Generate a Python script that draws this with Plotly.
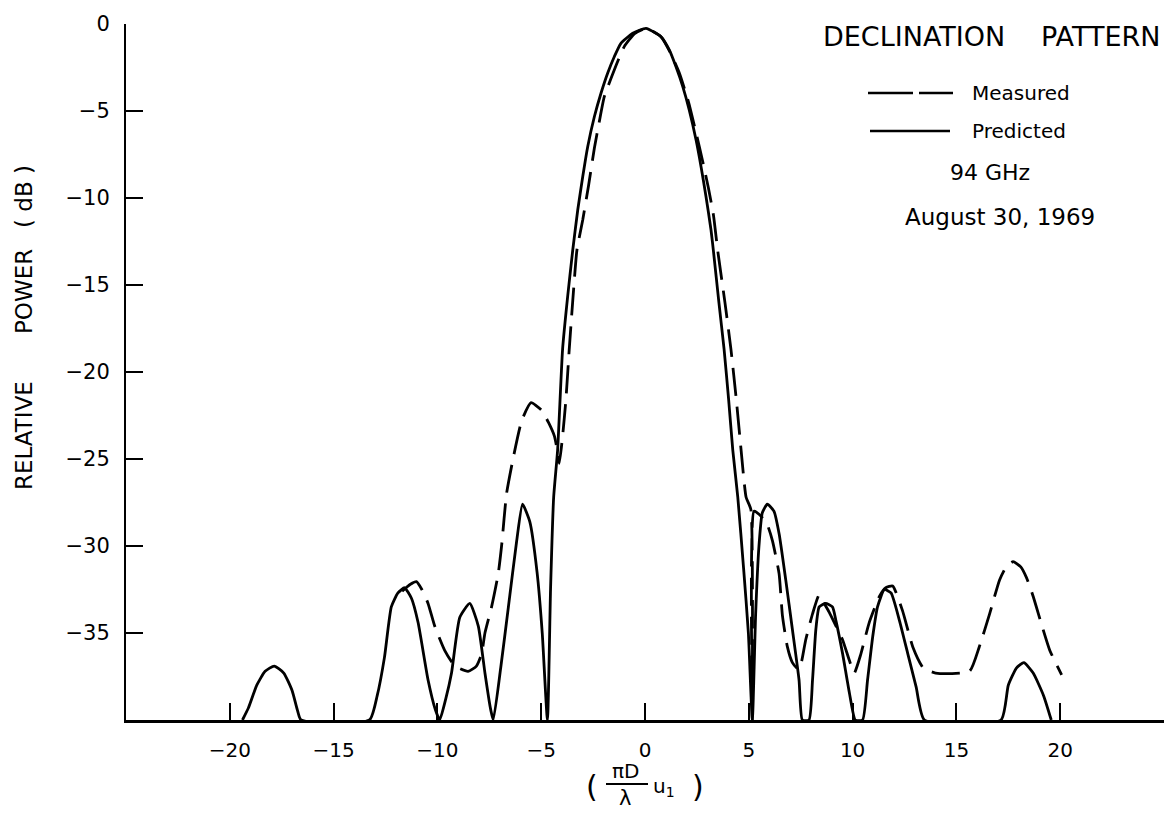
import plotly.graph_objects as go

# ---------------- data ----------------
pred_x = [-19.39, -19.1, -18.7, -18.3, -17.86, -17.4, -17.0, -16.75, -16.57,
          -13.27, -12.9, -12.55, -12.22, -11.9, -11.58, -11.25, -10.93, -10.45, -10.1, -9.89,
          -9.6, -9.32, -8.92, -8.44, -8.03, -7.71, -7.45, -7.31,
          -6.95, -6.58, -6.18, -5.9, -5.55, -5.2, -4.95, -4.7,
          -4.55, -4.40, -4.21, -3.97, -3.72, -3.48, -3.24, -3.0, -2.76, -2.44, -2.12, -1.80,
          -1.48, -1.16, -0.59, 0.05, 0.77, 1.17, 1.49, 1.82, 2.13, 2.46, 2.70, 2.94, 3.18,
          3.31, 3.55, 3.81, 4.03, 4.23, 4.47, 4.75, 4.98, 5.17,
          5.33, 5.49, 5.65, 5.89, 6.21, 6.46, 6.78, 7.1, 7.42, 7.58,
          7.9, 8.07, 8.23, 8.39, 8.7, 9.03, 9.2, 9.52, 9.84, 10.13,
          10.48, 10.72, 10.97, 11.2, 11.53, 11.85, 12.26, 12.66, 13.06, 13.46,
          17.15, 17.5, 17.9, 18.25, 18.7, 19.2, 19.57]
pred_db = [-40, -39.3, -38.0, -37.2, -36.9, -37.3, -38.3, -39.4, -40,
           -40, -38.6, -36.4, -33.5, -32.7, -32.4, -33.0, -34.4, -37.7, -39.4, -40,
           -38.8, -37.3, -34.1, -33.3, -34.6, -37.3, -39.3, -40,
           -37.0, -33.5, -29.7, -27.6, -28.6, -31.5, -35.0, -40,
           -32.5, -27.2, -24.5, -18.7, -15.6, -12.99, -10.69, -8.78, -7.05, -5.33, -3.98, -2.83,
           -1.88, -1.11, -0.53, -0.25, -0.73, -1.49, -2.45, -3.6, -4.94, -6.67, -8.2, -9.93, -11.84,
           -13.2, -15.9, -18.7, -21.6, -24.5, -27.2, -31.3, -35.0, -40,
           -33.9, -30.0, -28.1, -27.6, -28.0, -29.3, -31.95, -34.8, -37.7, -40,
           -40, -37.7, -34.8, -33.5, -33.3, -33.5, -34.3, -36.2, -38.4, -40,
           -40, -37.7, -35.2, -33.5, -32.5, -32.7, -34.3, -36.2, -38.1, -40,
           -40, -38.0, -37.0, -36.7, -37.3, -38.6, -40]

meas_x = [-11.7, -11.3, -11.01, -10.75, -10.45, -10.13, -9.65, -9.16, -8.52, -8.12, -7.87,
          -7.71, -7.39, -7.07, -6.9, -6.67, -6.34, -5.94, -5.49, -4.98, -4.65, -4.36, -4.2, -4.13,
          -3.97, -3.81, -3.65, -3.48, -3.28, -3.0, -2.72, -2.44, -2.2, -1.96, -1.48, -1.0, -0.5,
          0.05, 0.77, 1.2, 1.65, 2.1, 2.45, 2.78, 3.05, 3.3, 3.5, 3.85, 4.14, 4.4, 4.63, 4.87,
          5.1, 5.17, 5.25, 5.6, 5.9, 6.14, 6.46, 6.62, 6.86, 7.1, 7.4, 7.55, 7.74, 8.07, 8.39,
          8.63, 8.87, 9.2, 9.52, 9.85, 10.08, 10.4, 10.8, 11.29, 11.6, 11.93, 12.4, 12.9, 13.4,
          14.0, 15.63, 16.1, 16.6, 17.08, 17.4, 17.73, 18.1, 18.37, 18.7, 19.1, 19.5, 20.07]
meas_db = [-32.6, -32.2, -32.05, -32.5, -33.3, -34.6, -36.0, -36.9, -37.2, -36.9, -36.2,
           -35.0, -33.5, -31.6, -29.9, -27.0, -24.9, -22.8, -21.76, -22.2, -22.9, -23.7, -24.7, -25.25,
           -23.7, -21.6, -18.7, -15.9, -13.0, -11.26, -9.3, -7.14, -5.6, -4.18, -2.64, -1.3, -0.55,
           -0.25, -0.73, -1.6, -2.8, -4.5, -6.2, -7.9, -9.4, -11.0, -13.0, -16.0, -18.7, -21.6, -24.5, -27.2,
           -27.9, -40, -28.0, -28.3, -28.8, -29.7, -31.6, -34.0, -35.8, -36.7, -37.1, -36.6, -35.4, -33.9, -32.8,
           -33.3, -33.8, -34.6, -35.4, -36.6, -37.3, -36.2, -34.4, -32.9, -32.4, -32.3, -33.7, -35.8, -37.0,
           -37.3, -37.2, -35.8, -33.9, -31.95, -31.2, -30.9, -31.2, -31.8, -32.9, -34.5, -36.0, -37.4]

x_tick_vals = [-20, -15, -10, -5, 0, 5, 10, 15, 20]
x_tick_text = ["\u221220", "\u221215", "\u221210", "\u22125", "0", "5", "10", "15", "20"]
x_end_ticks = [-25, 25]
y_tick_vals = [0, -5, -10, -15, -20, -25, -30, -35]
y_tick_text = ["0", "\u22125", "\u221210", "\u221215", "\u221220", "\u221225", "\u221230", "\u221235"]

# ---------------- layout geometry (pixels) ----------------
W, H = 1172, 816
ML, MR, MT, MB = 126, 8, 24, 96
PW, PH = W - ML - MR, H - MT - MB
FONT = "DejaVu Sans"


def px(x):
    return (x - ML) / PW


def py(y):
    return (MT + PH - y) / PH


fig = go.Figure()
fig.add_trace(go.Scatter(x=meas_x, y=meas_db, mode="lines", name="Measured",
                         line=dict(color="black", width=2.8, dash="28px,11px",
                                   shape="spline", smoothing=0.5)))
fig.add_trace(go.Scatter(x=pred_x, y=pred_db, mode="lines", name="Predicted",
                         line=dict(color="black", width=2.8, shape="spline", smoothing=0.5)))

ann = []


def text(s, x, y, size, xanchor="center", angle=0):
    ann.append(dict(text=s, x=px(x), y=py(y), xref="paper", yref="paper",
                    xanchor=xanchor, yanchor="middle", showarrow=False, textangle=angle,
                    font=dict(family=FONT, size=size, color="black")))


# y-axis title words
text("RELATIVE", 24, 436, 23, angle=-90)
text("POWER", 24, 292, 23, angle=-90)
text("( dB )", 24, 197, 23, angle=-90)

# x-axis title: ( pi D / lambda  u1 )
text("(", 592, 786, 30)
text("\u03c0D", 625, 771, 20)
text("\u03bb", 625, 798, 21)
text("u<sub>1</sub>", 664, 787, 20)
text(")", 698, 786, 30)

# title block / legend
text("DECLINATION", 914, 37, 27)
text("PATTERN", 1100, 37, 27)
text("Measured", 970, 93, 20, xanchor="left")
text("Predicted", 970, 131, 20, xanchor="left")
text("94 GHz", 990, 173, 22)
text("August 30, 1969", 1000, 217, 23)

shapes = [
    dict(type="line", xref="paper", yref="paper", x0=px(606), x1=px(648), y0=py(784), y1=py(784),
         line=dict(color="black", width=2)),
    dict(type="line", xref="paper", yref="paper", x0=px(868), x1=px(953), y0=py(93), y1=py(93),
         line=dict(color="black", width=2.5, dash="45px,6px")),
    dict(type="line", xref="paper", yref="paper", x0=px(870), x1=px(950), y0=py(131), y1=py(131),
         line=dict(color="black", width=2.5)),
]

fig.update_layout(
    width=W, height=H,
    margin=dict(l=ML, r=MR, t=MT, b=MB, pad=0),
    paper_bgcolor="white", plot_bgcolor="white",
    showlegend=False,
    font=dict(family=FONT, size=20, color="black"),
    annotations=ann, shapes=shapes,
    xaxis=dict(range=[-25, 25], tickmode="array", tickvals=x_tick_vals, ticktext=x_tick_text,
               ticks="inside", ticklen=17, tickwidth=2, tickcolor="black",
               minor=dict(tickmode="array", tickvals=x_end_ticks, ticks="inside", ticklen=17,
                          tickwidth=2, tickcolor="black", showgrid=False),
               showline=True, linewidth=3, linecolor="black", showgrid=False, zeroline=False,
               tickfont=dict(family=FONT, size=20, color="black"), ticklabelstandoff=10),
    yaxis=dict(range=[-40, 0], tickmode="array", tickvals=y_tick_vals, ticktext=y_tick_text,
               ticks="inside", ticklen=17, tickwidth=2, tickcolor="black",
               showline=True, linewidth=2, linecolor="black", showgrid=False, zeroline=False,
               tickfont=dict(family=FONT, size=21, color="black"), ticklabelstandoff=10),
)

fig.write_html("out.html", config={"displayModeBar": False},
               post_script="document.body.style.margin='0';")
